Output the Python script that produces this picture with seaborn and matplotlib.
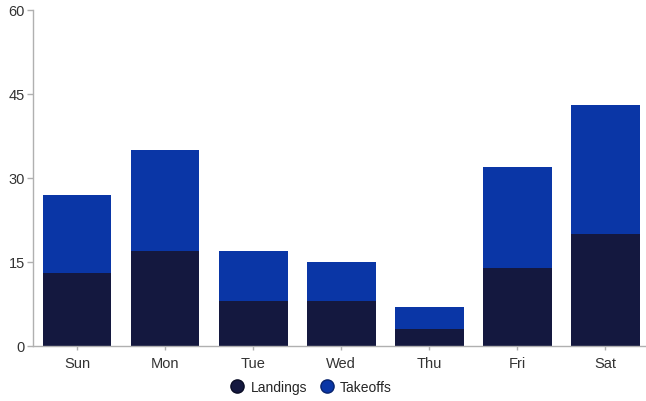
import matplotlib
matplotlib.use("Agg")
import matplotlib.pyplot as plt
from matplotlib.lines import Line2D
import seaborn as sns
import pandas as pd

days = ["Sun", "Mon", "Tue", "Wed", "Thu", "Fri", "Sat"]
landings = [13, 17, 8, 8, 3, 14, 20]
takeoffs = [14, 18, 9, 7, 4, 18, 23]
y_ticks = [0, 15, 30, 45, 60]

landing_color = "#14183f"
takeoff_color = "#0a36a6"

df = pd.DataFrame({"day": days, "Landings": landings, "Takeoffs": takeoffs})
df["total"] = df["Landings"] + df["Takeoffs"]

sns.set_theme(style="white")
plt.rcParams["font.family"] = ["Liberation Sans", "DejaVu Sans"]

W, H = 646, 402
fig = plt.figure(figsize=(W / 100, H / 100), dpi=100)
ax = fig.add_axes([33 / W, 55 / H, 613 / W, 336 / H])

# stacked bars: full height in takeoff colour, landings drawn over the lower part
sns.barplot(data=df, x="day", y="total", color=takeoff_color, saturation=1,
            width=0.78, ax=ax, order=days, linewidth=0)
sns.barplot(data=df, x="day", y="Landings", color=landing_color, saturation=1,
            width=0.78, ax=ax, order=days, linewidth=0)

ax.set_xlim(-0.5, 6.46)
ax.set_ylim(0, 60)
ax.set_yticks(y_ticks)
ax.set_yticklabels([str(v) for v in y_ticks])
ax.set_xlabel("")
ax.set_ylabel("")

for side in ["top", "right"]:
    ax.spines[side].set_visible(False)
for side in ["left", "bottom"]:
    ax.spines[side].set_color("#b0b0b0")
    ax.spines[side].set_linewidth(1.0)

ax.tick_params(axis="y", left=True, length=4, width=1, color="#b0b0b0",
               labelsize=10.5, labelcolor="#333333", pad=2)
ax.tick_params(axis="x", bottom=True, length=3, width=1, color="#b0b0b0",
               labelsize=10.5, labelcolor="#333333", pad=4)

handles = [
    Line2D([0], [0], marker="o", linestyle="", markersize=9.5,
           markerfacecolor=landing_color, markeredgecolor="#0a0d26"),
    Line2D([0], [0], marker="o", linestyle="", markersize=9.5,
           markerfacecolor=takeoff_color, markeredgecolor="#08246e"),
]
fig.legend(handles, ["Landings", "Takeoffs"], loc="center",
           bbox_to_anchor=(311 / W, 1 - 388 / H), ncol=2, frameon=False,
           fontsize=10, handletextpad=0.45, columnspacing=0.9,
           handlelength=1.0, borderaxespad=0)

fig.savefig("out.png", dpi=100)
